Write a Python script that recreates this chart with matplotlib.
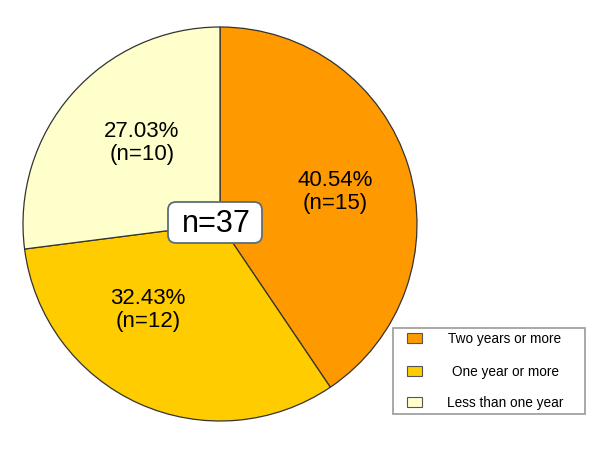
import matplotlib
matplotlib.use("Agg")
import matplotlib.pyplot as plt
from matplotlib.patches import Rectangle, FancyBboxPatch

categories = ["Two years or more", "One year or more", "Less than one year"]
counts = [15, 12, 10]
colors = ["#FF9900", "#FFCC00", "#FFFFCC"]
total_label = "n=37"

fig = plt.figure(figsize=(6, 4.5), dpi=100)
ax = fig.add_axes([0, 0, 1, 1])
ax.axis("off")

total = sum(counts)
wedges, _ = ax.pie(counts, colors=colors, startangle=90, counterclock=False,
                   center=(220, 226), radius=197,
                   wedgeprops=dict(edgecolor="#333333", linewidth=0.9))
ax.set_xlim(0, 600)
ax.set_ylim(0, 450)
ax.set_aspect("equal")

label_pos = [(335, 258), (148, 140), (142, 307)]
for c, (x, y) in zip(counts, label_pos):
    ax.text(x, y, f"{100*c/total:.2f}%\n(n={c})", ha="center", va="center",
            fontsize=16, linespacing=1.15, family="Liberation Sans")

box = FancyBboxPatch((168, 207), 94, 41, boxstyle="round,pad=0,rounding_size=8",
                     facecolor="white", edgecolor="#5a6e7a", linewidth=1.3)
ax.add_patch(box)
ax.text(216, 226, total_label, ha="center", va="center", fontsize=22,
        family="Liberation Sans")

# legend
ax.add_patch(Rectangle((393, 36), 192, 86, facecolor="white", edgecolor="#999999", linewidth=1.2))
ys = [111, 78, 47]
for cat, col, y in zip(categories, colors, ys):
    ax.add_patch(Rectangle((407, y - 4), 15, 10, facecolor=col, edgecolor="#555555", linewidth=0.8))
    ax.text(505, y, cat, ha="center", va="center", fontsize=9.8, family="Liberation Sans")

fig.savefig("out.png", dpi=100)
